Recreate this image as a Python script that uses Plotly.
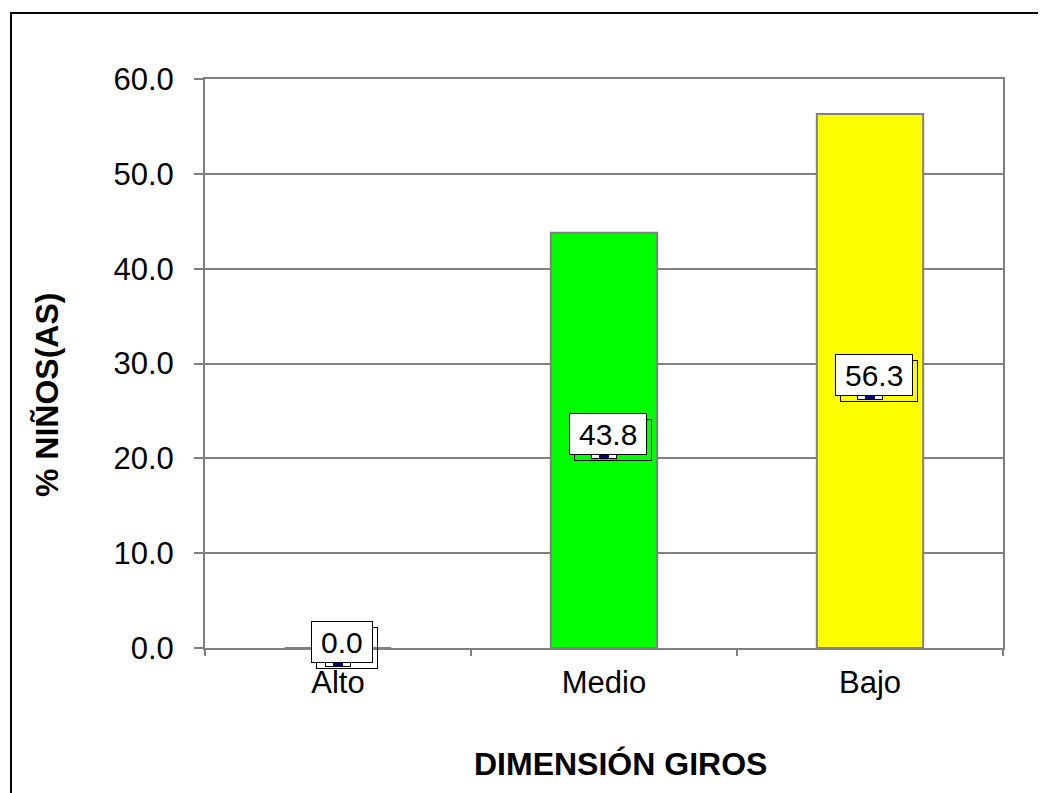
import plotly.graph_objects as go

categories = ["Alto", "Medio", "Bajo"]
values = [0.0, 43.8, 56.3]
colors = ["#0000FF", "#00FF00", "#FFFF00"]
y_title = "% NIÑOS(AS)"
x_title = "DIMENSIÓN GIROS"

FONT = "Liberation Sans, Arial, sans-serif"
OFF = 8  # default body margin of the html page
W, H = 1046 - OFF, 793 - OFF
L, T = 205 - OFF, 79 - OFF
pw, ph = 1003 - 205, 648 - 79
R, B = W - L - pw, H - T - ph

fig = go.Figure()
fig.add_trace(go.Bar(
    x=categories, y=values,
    marker=dict(color=colors, line=dict(color="#808080", width=2)),
    width=0.4, showlegend=False, hoverinfo="x+y",
))

def px_to_paper_x(px):
    return (px - OFF - L) / pw

def px_to_paper_y(py):
    return (T + ph - (py - OFF)) / ph

annotations = []
for cat, v in zip(categories, values):
    txt = f"{v:.1f}"
    tw = sum(8.3 if ch == "." else 16.7 for ch in txt)
    bw = tw + 16
    # shadow
    annotations.append(dict(
        x=cat, y=v / 2, xref="x", yref="y", text=" ", showarrow=False,
        width=bw, height=38, borderpad=1, bordercolor="black", borderwidth=1,
        bgcolor="rgba(0,0,0,0)", xshift=9, yshift=0, font=dict(size=30, family=FONT),
    ))
    # small marker under label
    annotations.append(dict(
        x=cat, y=v / 2, xref="x", yref="y", text="", showarrow=False,
        width=24, height=4, borderpad=0, bordercolor="black", borderwidth=1,
        bgcolor="white", xshift=0, yshift=-16, font=dict(size=4, family=FONT),
    ))
    annotations.append(dict(
        x=cat, y=v / 2, xref="x", yref="y", text="", showarrow=False,
        width=10, height=3, borderpad=0, borderwidth=0,
        bgcolor="#000080", xshift=0, yshift=-16, font=dict(size=3, family=FONT),
    ))
    # main label
    annotations.append(dict(
        x=cat, y=v / 2, xref="x", yref="y", text=txt, showarrow=False,
        width=bw, height=38, borderpad=1, bordercolor="black", borderwidth=1,
        bgcolor="white", xshift=4, yshift=6, font=dict(size=30, family=FONT, color="black"),
    ))

annotations.append(dict(
    x=px_to_paper_x(47), y=px_to_paper_y(395), xref="paper", yref="paper",
    xanchor="center", yanchor="middle",
    text=f"<b>{y_title}</b>", textangle=-90, showarrow=False,
    font=dict(size=32, family=FONT, color="black"),
))
annotations.append(dict(
    x=px_to_paper_x(620), y=px_to_paper_y(764), xref="paper", yref="paper",
    xanchor="center", yanchor="middle",
    text=f"<b>{x_title}</b>", showarrow=False,
    font=dict(size=32, family=FONT, color="black"),
))

fig.update_layout(
    width=W, height=H,
    margin=dict(l=L, r=R, t=T, b=B, pad=0),
    paper_bgcolor="white", plot_bgcolor="white",
    font=dict(family=FONT, size=31, color="black"),
    bargap=0.6,
    annotations=annotations,
    shapes=[dict(
        type="rect", xref="paper", yref="paper",
        x0=px_to_paper_x(11), x1=1.3, y0=-0.5, y1=px_to_paper_y(13),
        line=dict(color="black", width=2), fillcolor="rgba(0,0,0,0)", layer="above",
    )],
)
fig.update_xaxes(
    type="category", range=[-0.5, 2.5],
    showline=True, linecolor="#808080", linewidth=2, mirror=True,
    ticks="outside", tickson="boundaries", ticklen=6, tickcolor="#808080", tickwidth=2,
    showgrid=False, tickfont=dict(size=31, family=FONT, color="black"),
    ticklabelstandoff=6,
)
fig.update_yaxes(
    range=[0, 60], dtick=10, tickformat=".1f",
    showline=True, linecolor="#808080", linewidth=2, mirror=True,
    ticks="outside", ticklen=9, tickcolor="#808080", tickwidth=2,
    showgrid=True, gridcolor="#808080", gridwidth=1.5, zeroline=False,
    tickfont=dict(size=31, family=FONT, color="black"),
    ticklabelstandoff=14,
)

fig.write_html("out.html")
